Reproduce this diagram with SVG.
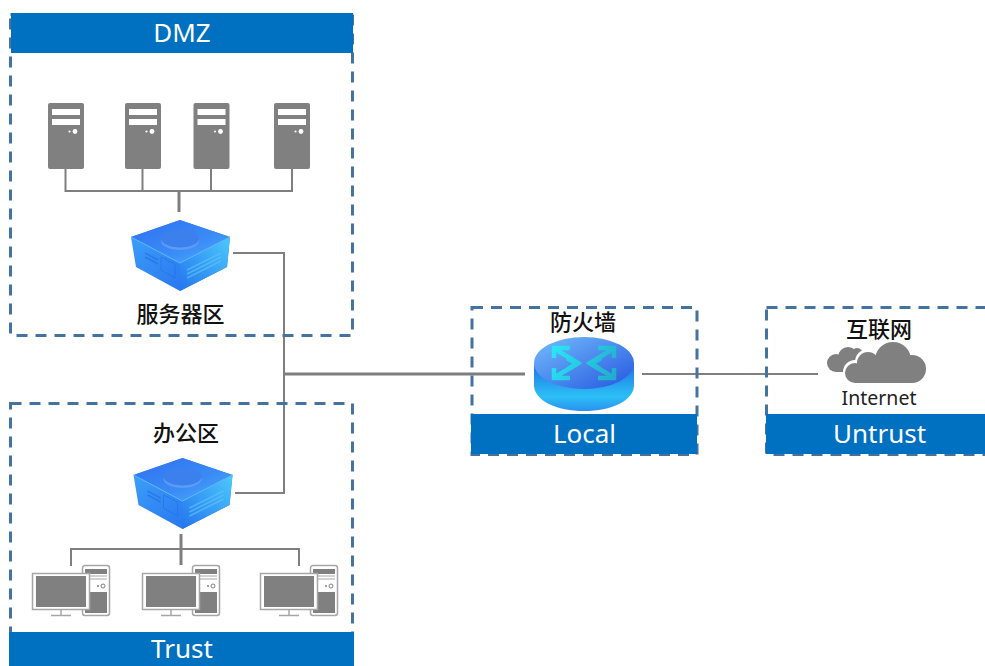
<svg xmlns="http://www.w3.org/2000/svg" xmlns:xlink="http://www.w3.org/1999/xlink" width="985" height="666" viewBox="0 0 985 666">
<style>
.zone{fill:none;stroke:#44739f;stroke-width:3;stroke-dasharray:11 8}
.hdr{fill:#0070c0}
.ht{font-family:"Noto Sans","Noto Sans CJK SC",sans-serif;font-size:26px;fill:#fff;text-anchor:middle}
.lb{font-family:"Noto Sans CJK SC","Noto Sans",sans-serif;font-size:22px;font-weight:500;fill:#111;text-anchor:middle}
.en{font-family:"Noto Sans","Noto Sans CJK SC",sans-serif;font-size:19.500px;fill:#222;text-anchor:middle}
.c{fill:none;stroke:#7f7f7f;stroke-width:2}
.c2{fill:none;stroke:#7f7f7f;stroke-width:3}
.g{fill:#808080}
.w{fill:#fff}
.pcl{fill:#fff;stroke:#a6a6a6;stroke-width:1.500}
</style>
<defs>
<linearGradient id="top" x1="0" y1="0" x2="1" y2="1"><stop offset="0" stop-color="#2f6ff2"/><stop offset="0.6" stop-color="#3a8cf6"/><stop offset="1" stop-color="#52b0fc"/></linearGradient>
<linearGradient id="lf" x1="0" y1="0" x2="1" y2="1"><stop offset="0" stop-color="#3fa6fa"/><stop offset="1" stop-color="#2168ec"/></linearGradient>
<linearGradient id="rt" x1="0" y1="1" x2="1" y2="0"><stop offset="0" stop-color="#2475ee"/><stop offset="1" stop-color="#4ccafc"/></linearGradient>
<linearGradient id="rtop" x1="0" y1="0" x2="1" y2="1"><stop offset="0" stop-color="#74bdfb"/><stop offset="1" stop-color="#2456e0"/></linearGradient>
<linearGradient id="rside" x1="0" y1="0" x2="0" y2="1"><stop offset="0" stop-color="#1f6fe6"/><stop offset="0.7" stop-color="#2cc0f5"/><stop offset="1" stop-color="#2a8ff0"/></linearGradient>
<linearGradient id="arr" gradientUnits="userSpaceOnUse" x1="552" y1="345" x2="616" y2="385"><stop offset="0" stop-color="#2be8f8"/><stop offset="1" stop-color="#20a8c8"/></linearGradient>
<g id="server">
<rect width="36" height="66" rx="2" class="g"/>
<rect x="4" y="6" width="28" height="6" class="w"/>
<rect x="4" y="16" width="28" height="6" class="w"/>
<circle cx="21.500" cy="28.500" r="1.100" class="w"/>
<circle cx="27" cy="28.500" r="2.400" class="w"/>
</g>
<g id="switch">
<path d="M0 17 49 0 99 17 96 47 49 71 5 47Z" fill="url(#lf)"/>
<path d="M0 17 49 0 99 17 49 43Z" fill="url(#top)"/>
<path d="M49 43 99 17 96 47 49 71Z" fill="url(#rt)"/>
<path d="M0 17 49 43 99 17" fill="none" stroke="#62b8fc" stroke-width="1"/>
<ellipse cx="49" cy="21" rx="19" ry="9" fill="#5a9cf6"/>
<ellipse cx="49" cy="18.500" rx="19" ry="9" fill="#3c80ee"/>
<g stroke="#2a6fe6" stroke-width="1.500" fill="none" opacity=".7">
<path d="M14 33 27 40M14 37 27 44"/>
<path d="M30 37 44 44V58L30 50Z" stroke-width="1"/>
</g>
<g stroke="#5cc0fb" stroke-width="1.500" fill="none" opacity=".7">
<path d="M56 50 90 33M56 54 90 37M56 58 90 41"/>
</g>
</g>
<g id="pc">
<rect x="50.500" y="0.500" width="27" height="50" rx="2.500" class="pcl"/>
<rect x="53" y="4" width="22" height="5" class="g"/>
<path d="M53 11H75M53 14H75" stroke="#a6a6a6" stroke-width="1"/>
<circle cx="71" cy="21" r="2" fill="#fff" stroke="#808080"/><circle cx="66" cy="21" r="1" class="g"/>
<rect x="53" y="27" width="22" height="21" class="g"/>
<rect x="0.500" y="8.500" width="57" height="36" class="pcl"/>
<rect x="4" y="11" width="50" height="31" class="g"/>
<path d="M29 45V50M19 50.500H39" stroke="#a6a6a6" stroke-width="1.500"/>
</g>
</defs>

<g id="connectors">
<path class="c" d="M65.500 169V191H292V169M142.500 169V191M211 169V191"/>
<path class="c2" d="M179 191V212"/>
<path class="c" d="M233 253H284V493H235"/>
<path class="c2" d="M285 374H525"/>
<path class="c" d="M642 374H818"/>
<path class="c2" d="M181 534V565"/>
<path class="c" d="M71 566V549H299V566"/>
</g>

<g id="zone-dmz">
<rect class="zone" x="10.500" y="14.500" width="342" height="321"/>
<rect class="hdr" x="11" y="13" width="342" height="40"/>
<text class="ht" x="182" y="42">DMZ</text>
</g>
<g id="server-1"><use xlink:href="#server" href="#server" x="48" y="103"/></g>
<g id="server-2"><use xlink:href="#server" href="#server" x="125" y="103"/></g>
<g id="server-3"><use xlink:href="#server" href="#server" x="193.500" y="103"/></g>
<g id="server-4"><use xlink:href="#server" href="#server" x="274" y="103"/></g>
<g id="switch-server"><use xlink:href="#switch" href="#switch" x="131" y="220"/>
<text class="lb" x="180.500" y="322">服务器区</text></g>

<g id="zone-trust">
<rect class="zone" x="10.500" y="403.500" width="342" height="250"/>
<rect class="hdr" x="9" y="632" width="345" height="34"/>
<text class="ht" x="182" y="658">Trust</text>
</g>
<g id="switch-office"><text class="lb" x="186" y="441">办公区</text>
<use xlink:href="#switch" href="#switch" x="133.500" y="458"/></g>
<g id="pc-1"><use xlink:href="#pc" href="#pc" x="32" y="565"/></g>
<g id="pc-2"><use xlink:href="#pc" href="#pc" x="142" y="565"/></g>
<g id="pc-3"><use xlink:href="#pc" href="#pc" x="260" y="565"/></g>

<g id="zone-local">
<rect class="zone" x="472" y="307.500" width="225" height="147"/>
<rect class="hdr" x="471" y="414" width="226" height="40"/>
<text class="ht" x="584.500" y="443">Local</text>
</g>
<g id="firewall">
<text class="lb" x="583" y="330">防火墙</text>
<path d="M534 363V385C534 401 557 411 584 411S634 401 634 385V363Z" fill="url(#rside)"/>
<ellipse cx="584" cy="363" rx="50" ry="26" fill="url(#rtop)"/>
<g fill="none" stroke="url(#arr)" stroke-width="4.500">
<path d="M554 358V348H570M555 349 578 363 568 369"/>
<path d="M614 358V348H598M613 349 590 363 600 369"/>
<path d="M554 368V378H570M555 377 577 364 567 358"/>
<path d="M614 368V378H598M613 377 591 364 601 358"/>
</g>
</g>

<g id="zone-untrust">
<rect class="zone" x="766.500" y="307.500" width="230" height="147"/>
<rect class="hdr" x="766" y="414" width="219" height="40"/>
<text class="ht" x="879.500" y="443">Untrust</text>
</g>
<g id="internet">
<text class="lb" x="879" y="337">互联网</text>
<g class="g"><circle cx="836" cy="363" r="9"/><circle cx="848" cy="357" r="10"/><circle cx="857" cy="354" r="6"/><rect x="836" y="358" width="20" height="14"/></g>
<g fill="#fff"><circle cx="855" cy="372" r="12"/><circle cx="868" cy="362" r="13"/></g>
<g class="g"><circle cx="855" cy="373" r="10"/><circle cx="868" cy="363" r="11"/><circle cx="893" cy="360" r="18"/><circle cx="912" cy="369" r="14"/><rect x="855" y="365" width="57" height="18"/></g>
<text class="en" x="879" y="405">Internet</text>
</g>
</svg>
